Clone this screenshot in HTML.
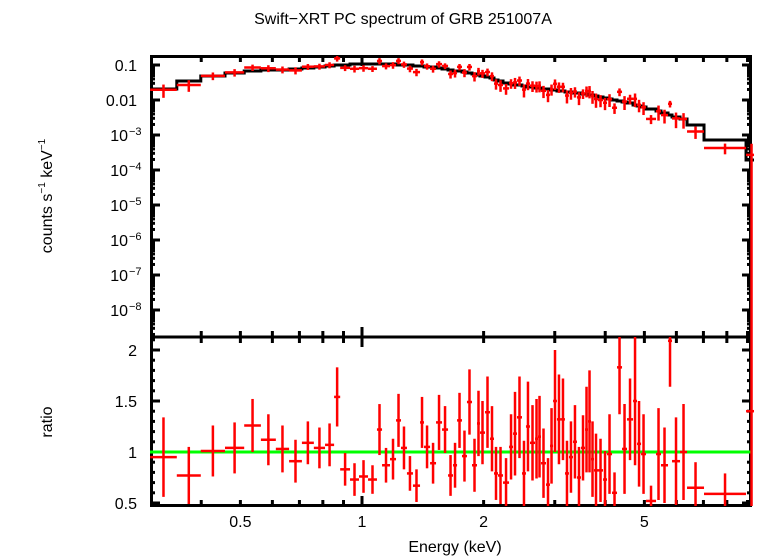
<!DOCTYPE html>
<html><head><meta charset="utf-8"><style>
body{margin:0;background:#fff;}
svg{display:block;font-family:"Liberation Sans",sans-serif;}
</style></head><body>
<svg id="chart" width="758" height="556" viewBox="0 0 758 556">
<defs>
<clipPath id="ctop"><rect x="150" y="56" width="604" height="281"/></clipPath>
<clipPath id="cbot"><rect x="150" y="337" width="604" height="169"/></clipPath>
</defs>
<text x="403" y="24" font-size="16" text-anchor="middle">Swift−XRT PC spectrum of GRB 251007A</text>
<text transform="translate(52,196) rotate(-90)" font-size="16" text-anchor="middle">counts s<tspan font-size="10" dy="-7">−1</tspan><tspan dy="7"> keV</tspan><tspan font-size="10" dy="-7">−1</tspan></text>
<text transform="translate(52,422) rotate(-90)" font-size="16" text-anchor="middle">ratio</text>
<text x="455" y="552" font-size="16" text-anchor="middle">Energy (keV)</text>
<g id="axes"></g>
<g id="frame"></g>
<g id="topPanel" clip-path="url(#ctop)"></g>
<g id="botPanel" clip-path="url(#cbot)"></g>
</svg>
<script>
const edges=[0.299,0.348,0.399,0.458,0.511,0.562,0.612,0.660,0.710,0.760,0.810,0.853,0.883,0.934,0.983,1.035,1.089,1.121,1.173,1.214,1.249,1.292,1.337,1.392,1.424,1.474,1.525,1.578,1.633,1.680,1.719,1.768,1.819,1.872,1.926,1.959,2.016,2.074,2.122,2.171,2.234,2.312,2.365,2.419,2.489,2.546,2.605,2.681,2.727,2.774,2.854,2.920,2.971,3.038,3.108,3.180,3.253,3.328,3.405,3.484,3.565,3.626,3.689,3.752,3.839,3.950,4.041,4.158,4.278,4.402,4.529,4.687,4.795,4.906,5.047,5.343,5.497,5.721,5.853,6.126,6.376,7.024,8.925,9.50];
const modelLog=[-1.686,-1.457,-1.314,-1.229,-1.171,-1.143,-1.143,-1.114,-1.086,-1.057,-1.029,-1.0,-1.0,-0.971,-0.971,-0.971,-0.971,-0.971,-0.971,-1.0,-1.0,-1.0,-1.029,-1.029,-1.057,-1.057,-1.086,-1.114,-1.143,-1.171,-1.171,-1.2,-1.229,-1.257,-1.286,-1.314,-1.343,-1.371,-1.429,-1.457,-1.514,-1.543,-1.571,-1.571,-1.6,-1.629,-1.629,-1.657,-1.657,-1.686,-1.686,-1.714,-1.714,-1.743,-1.743,-1.771,-1.771,-1.8,-1.8,-1.829,-1.829,-1.857,-1.857,-1.886,-1.914,-1.943,-1.971,-2.0,-2.029,-2.057,-2.086,-2.143,-2.171,-2.2,-2.257,-2.314,-2.371,-2.429,-2.486,-2.543,-2.714,-3.143,-3.714];
const ratio=[0.95,0.77,1.01,1.04,1.26,1.12,1.03,0.91,1.09,1.04,1.07,1.54,0.83,0.73,0.76,0.73,1.22,0.87,0.93,1.31,1.04,0.79,0.67,1.29,1.05,0.89,1.29,1.22,0.77,0.87,1.31,0.96,1.49,0.87,1.28,1.19,1.39,1.13,0.79,0.77,0.70,1.05,1.18,1.34,0.79,1.25,1.09,1.13,1.15,0.89,0.68,1.06,1.50,1.32,1.32,0.79,0.95,1.10,0.75,1.04,1.22,1.30,0.93,0.82,0.82,0.73,0.98,0.60,1.83,1.03,1.32,1.50,1.08,0.98,0.52,0.98,0.87,2.09,0.91,1.00,0.65,0.59,1.40];
const ratioErr=[.39,.28,.25,.25,.26,.25,.23,.21,.21,.20,.21,.29,.16,.16,.16,.14,.25,.17,.20,.26,.21,.17,.16,.25,.21,.20,.27,.23,.20,.22,.27,.25,.32,.26,.32,.31,.35,.32,.26,.28,.24,.32,.41,.40,.32,.44,.37,.39,.40,.34,.26,.37,.50,.44,.40,.32,.35,.36,.30,.32,.42,.50,.37,.36,.31,.28,.39,.20,.46,.44,.40,.63,.42,.39,.15,.45,.37,.45,.43,.47,.25,.20,1.5];
const topTickLabels=["0.1","0.01","10|−3","10|−4","10|−5","10|−6","10|−7","10|−8"];
const topTickValues=[-1,-2,-3,-4,-5,-6,-7,-8];
const ratioTicks=["0.5","1","1.5","2"];
const xTickLabels=["0.5","1","2","5"];

const NS="http://www.w3.org/2000/svg";
const X=e=>362+404*Math.log10(e);
const YT=lv=>65-35*(lv+1);
const YB=r=>452-102*(r-1);
function mk(tag,attrs,parent){const el=document.createElementNS(NS,tag);for(const k in attrs)el.setAttribute(k,attrs[k]);parent.appendChild(el);return el;}
const gTop=document.getElementById('topPanel'),gBot=document.getElementById('botPanel'),gAxes=document.getElementById('axes'),gFrame=document.getElementById('frame');

let dT="";
for(let i=0;i<modelLog.length;i++){
  const x0=X(edges[i]),x1=X(edges[i+1]),y=YT(modelLog[i]);
  dT+=(i?"L":"M")+x0+","+y+"L"+x1+","+y;
}
const model=mk('path',{d:dT,fill:'none',stroke:'#000','stroke-width':3},gTop);


const green=mk('line',{x1:150,x2:752,y1:YB(1),y2:YB(1),stroke:'#00ff00','stroke-width':3},gBot);



for(let i=0;i<ratio.length;i++){
  const x0=X(edges[i]),x1=X(edges[i+1]),xc=(x0+x1)/2;
  const m=Math.pow(10,modelLog[i]);
  const c=m*ratio[i],lo=m*(ratio[i]-ratioErr[i]),hi=m*(ratio[i]+ratioErr[i]);
  const g=mk('g',{stroke:'#ff0000','stroke-width':2.5},gTop);
  
  
  mk('line',{x1:x0,x2:x1,y1:YT(Math.log10(c)),y2:YT(Math.log10(c))},g);
  mk('line',{x1:xc,x2:xc,y1:lo>0?YT(Math.log10(lo)):400,y2:YT(Math.log10(hi))},g);
  const g2=mk('g',{stroke:'#ff0000','stroke-width':2.5},gBot);
  
  
  mk('line',{x1:x0,x2:x1,y1:YB(ratio[i]),y2:YB(ratio[i])},g2);
  mk('line',{x1:xc,x2:xc,y1:YB(ratio[i]-ratioErr[i]),y2:YB(ratio[i]+ratioErr[i])},g2);
}

const fr=mk('g',{fill:'none',stroke:'#000','stroke-width':3},gFrame);


mk('rect',{x:151.5,y:56.5,width:599,height:449},fr);
mk('line',{x1:150,x2:752,y1:337,y2:337},fr);

for(let d=-9;d<=-1;d++){
  for(let k=1;k<10;k++){
    const lv=d+Math.log10(k),y=YT(lv);
    if(y<57||y>336)continue;
    const len=k===1?10:5;
    mk('line',{x1:150,x2:150+len,y1:y,y2:y},fr);
    mk('line',{x1:752,x2:752-len,y1:y,y2:y},fr);
  }
}
topTickValues.forEach((v,i)=>{
  const p=topTickLabels[i].split('|');
  const t=mk('text',{x:p[1]?128:137,y:YT(v)+6,'font-size':16,'text-anchor':'end'},gAxes);
  
  
  t.textContent=p[0];
  if(p[1]){const s=mk('tspan',{x:129,dy:-6,'font-size':11,'text-anchor':'start'},t);s.textContent=p[1];}
});
for(let r=5;r<=21;r++){
  const y=YB(r/10);if(y<338||y>505)continue;
  const len=r%5===0?10:5;
  mk('line',{x1:150,x2:150+len,y1:y,y2:y},fr);
  mk('line',{x1:752,x2:752-len,y1:y,y2:y},fr);
}
ratioTicks.forEach(s=>{
  const t=mk('text',{x:137,y:YB(parseFloat(s))+6,'font-size':16,'text-anchor':'end'},gAxes);
  
  
  t.textContent=s;
});
const xt=[0.3,0.4,0.5,0.6,0.7,0.8,0.9,1,2,3,4,5,6,7,8,9];
xt.forEach(e=>{
  const x=X(e);if(x<152||x>750)return;
  const len=e===1?10:6;
  [56,337].forEach(yy=>mk('line',{x1:x,x2:x,y1:yy,y2:yy+len},fr));
  [337,506].forEach(yy=>mk('line',{x1:x,x2:x,y1:yy,y2:yy-len},fr));
});
xTickLabels.forEach(s=>{
  const t=mk('text',{x:X(parseFloat(s)),y:527,'font-size':16,'text-anchor':'middle'},gAxes);
  
  
  t.textContent=s;
});
</script>
</body></html>
